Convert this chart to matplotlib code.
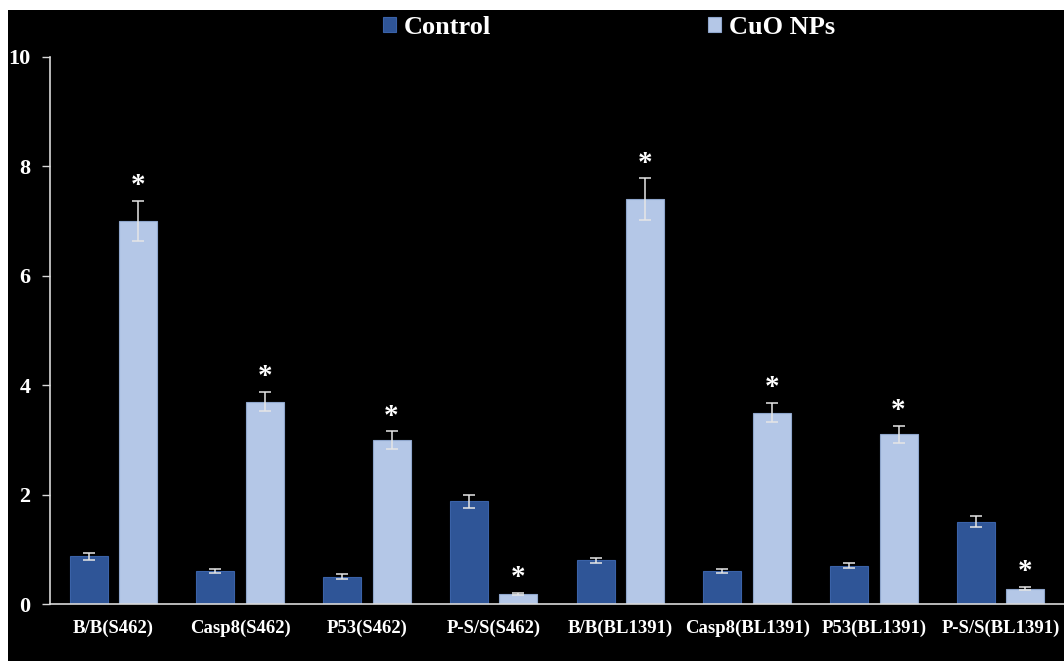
import matplotlib
matplotlib.use("Agg")
import matplotlib.pyplot as plt
from matplotlib.patches import Rectangle
import numpy as np

categories = ["B/B(S462)", "Casp8(S462)", "P53(S462)", "P-S/S(S462)",
              "B/B(BL1391)", "Casp8(BL1391)", "P53(BL1391)", "P-S/S(BL1391)"]
control = [0.87, 0.60, 0.50, 1.88, 0.80, 0.60, 0.70, 1.50]
control_err = [0.06, 0.04, 0.04, 0.12, 0.05, 0.04, 0.05, 0.10]
cuo = [7.00, 3.70, 3.00, 0.18, 7.40, 3.50, 3.10, 0.28]
cuo_err = [0.37, 0.18, 0.16, 0.02, 0.38, 0.18, 0.16, 0.03]
significant = [True] * 8
yticks = [0, 2, 4, 6, 8, 10]

W, H = 1064, 661
fig = plt.figure(figsize=(W / 100, H / 100), dpi=100, facecolor="white")
fig.patches.append(Rectangle((8 / W, 0), 1 - 8 / W, (H - 10) / H,
                             transform=fig.transFigure, facecolor="black",
                             edgecolor="none", zorder=-5))

ax = fig.add_axes([50 / W, 57 / H, (W - 50) / W, (604 - 57) / H])
ax.set_facecolor("black")

serif = "Liberation Serif"
x = np.arange(len(categories))
w = 0.30
off = 0.195
c_dark = "#2F5597"
c_light = "#B4C7E7"

b1 = ax.bar(x - off, control, w, color=c_dark, edgecolor="#3a62a8", linewidth=0.8,
            label="Control", zorder=2)
b2 = ax.bar(x + off, cuo, w, color=c_light, edgecolor="#8fa6cc", linewidth=0.8,
            label="CuO NPs", zorder=2)
ekw = dict(fmt="none", ecolor="#e6e6e6", elinewidth=1.1, capsize=4, capthick=1.1, zorder=3)
ax.errorbar(x - off, control, yerr=control_err, **ekw)
ax.errorbar(x + off, cuo, yerr=cuo_err, **ekw)

for xi, v, e, s in zip(x, cuo, cuo_err, significant):
    if s:
        ax.text(xi + off, v + e + 0.03, "*", ha="center", va="bottom", color="white",
                fontsize=21, fontweight="bold", family=serif, zorder=4)

ax.set_xlim(-0.5, len(categories) - 0.5)
ax.set_ylim(0, 10)
ax.set_yticks(yticks)
ax.set_yticklabels([str(t) for t in yticks])
ax.set_xticks(x)
ax.set_xticklabels(categories)

for lab in ax.get_xticklabels() + ax.get_yticklabels():
    lab.set_family(serif)
    lab.set_fontweight("bold")
    lab.set_color("white")
for lab in ax.get_xticklabels():
    lab.set_fontsize(13.5)
for lab in ax.get_yticklabels():
    lab.set_fontsize(16)

ax.tick_params(axis="x", length=0, pad=11)
ax.tick_params(axis="y", length=6, width=1, color="#d9d9d9", pad=8)
for side in ["top", "right"]:
    ax.spines[side].set_visible(False)
for side in ["left", "bottom"]:
    ax.spines[side].set_color("#d9d9d9")
    ax.spines[side].set_linewidth(1.2)

leg = fig.legend(handles=[b1, b2], labels=["Control", "CuO NPs"], loc="center",
                 bbox_to_anchor=(609 / W, 1 - 27 / H), ncol=2, frameon=False,
                 handlelength=0.5, handleheight=0.5, handletextpad=0.3,
                 columnspacing=8.2,
                 prop={"family": serif, "weight": "bold", "size": 19})
for t in leg.get_texts():
    t.set_color("white")

fig.savefig("out.png", dpi=100, facecolor=fig.get_facecolor())
